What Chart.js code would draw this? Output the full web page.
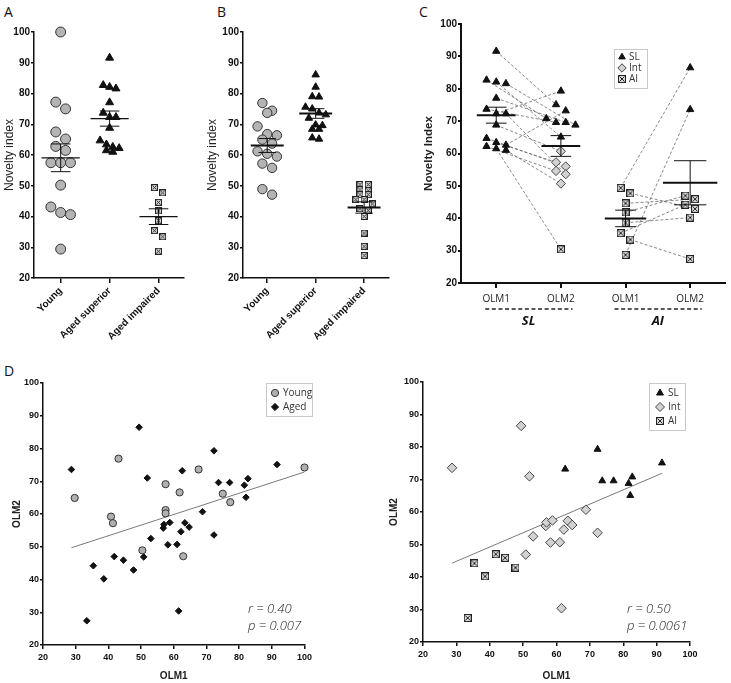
<!DOCTYPE html>
<html>
<head>
<meta charset="utf-8">
<script src="https://cdn.jsdelivr.net/npm/chart.js@4.4.1/dist/chart.umd.min.js"></script>
<style>
  body { margin: 0; background: #fff; width: 731px; height: 683px; position: relative; overflow: hidden; }
  .panel { position: absolute; }
  .letter { position: absolute; font: 14px 'Open Sans', sans-serif; line-height: 14px; color: #111; }
  .stat { position: absolute; font: italic 300 13px 'Open Sans', sans-serif; line-height: 17px; color: #222; white-space: nowrap; }
</style>
</head>
<body>
<div class="letter" style="left:4px;top:5px">A</div>
<div class="letter" style="left:217px;top:5px">B</div>
<div class="letter" style="left:419px;top:5px">C</div>
<div class="letter" style="left:4px;top:364px">D</div>

<div class="panel" style="left:0;top:20px;width:190px;height:328px"><canvas id="chartA"></canvas></div>
<div class="panel" style="left:203px;top:20px;width:191px;height:328px"><canvas id="chartB"></canvas></div>
<div class="panel" style="left:400px;top:10px;width:331px;height:330px"><canvas id="chartC"></canvas></div>
<div class="panel" style="left:0;top:370px;width:315px;height:313px"><canvas id="chartD1"></canvas></div>
<div class="panel" style="left:370px;top:370px;width:361px;height:313px"><canvas id="chartD2"></canvas></div>

<div class="stat" id="statD1" style="left:248px;top:600px"></div>
<div class="stat" id="statD2" style="left:627px;top:600px"></div>

<script>
// ---- data ----
const groupNames = ['Young', 'Aged superior', 'Aged impaired'];
const sessionNames = ['OLM1', 'OLM2', 'OLM1', 'OLM2'];
const cohortNames = ['SL', 'AI'];
const classNames = ['SL', 'Int', 'AI'];

// panel A (first test), young rats
const youngA = [100, 77.2, 75, 67.5, 65.2, 62.8, 61.5, 57.5, 57.5, 57.5, 50.2, 43.1, 41.3, 40.6, 29.4];

// panel B
const youngB = [76.9, 74.4, 73.7, 69.3, 66.8, 66.4, 65, 63.7, 61.2, 60.4, 59.5, 57.2, 55.8, 48.9, 47.1];
const superiorB = [86.1, 82.1, 79, 78.9, 75.6, 75, 73.7, 73.1, 72, 69.8, 69.6, 68.4, 68.4, 65.6, 65.2];
const impairedB = [50.4, 50.4, 48.7, 48.4, 47.1, 47.1, 45.5, 45.5, 44.1, 42.5, 42, 40, 34.6, 30.3, 27.3];

// paired OLM1 / OLM2 scores
const youngOlm1 = [100, 77.3, 75.0, 67.6, 62.9, 61.8, 57.5, 57.5, 57.5, 50.4, 43.1, 40.8, 41.4, 29.7];
const youngOlm2 = [74.2, 63.6, 66.2, 73.6, 47.1, 66.6, 69.1, 61.2, 60.2, 48.9, 76.9, 59.2, 57.2, 64.9];
const agedOlm1 = [91.6, 72.3, 62.6, 73.7, 77.1, 81.6, 82.7, 82.1, 28.7, 49.4, 51.9, 53.0, 50.8, 56.8, 57.0,
                  58.8, 58.2, 61.0, 62.2, 63.4, 64.7, 68.8, 72.3, 61.5, 33.4, 35.4, 38.6, 41.8, 44.6, 47.7];
const agedOlm2 = [75.1, 79.3, 73.2, 69.6, 69.6, 68.8, 70.8, 65.1, 73.6, 86.5, 71.0, 52.5, 46.9, 55.7, 56.8,
                  57.4, 50.6, 50.7, 54.6, 57.3, 56.0, 60.7, 53.6, 30.4, 27.4, 44.2, 40.2, 47.0, 45.9, 42.9];

const slCut = 61;   // superior learners at or above
const aiCut = 50;   // impaired below
const statsD1 = ['r = 0.40', 'p = 0.007'];
const statsD2 = ['r = 0.50', 'p = 0.0061'];

// ---- helpers ----
const black = '#111';

function classOf(v) {
  if (v >= slCut) return 'SL';
  if (v < aiCut) return 'AI';
  return 'Int';
}

function mean(a) { return a.reduce((s, v) => s + v, 0) / a.length; }

function boxX(size) {
  const c = document.createElement('canvas');
  c.width = size; c.height = size;
  const g = c.getContext('2d');
  g.fillStyle = '#dadada';
  g.fillRect(0, 0, size, size);
  g.strokeStyle = '#222';
  g.lineWidth = 1;
  g.strokeRect(0.5, 0.5, size - 1, size - 1);
  g.beginPath();
  g.moveTo(1.5, 1.5); g.lineTo(size - 1.5, size - 1.5);
  g.moveTo(size - 1.5, 1.5); g.lineTo(1.5, size - 1.5);
  g.stroke();
  return c;
}

function mark(style, r, fill, line) {
  return { pointStyle: style, pointRadius: r, pointBackgroundColor: fill, pointBorderColor: line, pointBorderWidth: 1 };
}

// rows of close values are spread sideways around the group centre
function swarm(values, center, step, tol) {
  const order = values.map((v, i) => i).sort((a, b) => values[b] - values[a]);
  const xs = new Array(values.length);
  let row = [];
  const flush = function () {
    row.forEach((i, j) => { xs[i] = center + (j - (row.length - 1) / 2) * step; });
    row = [];
  };
  order.forEach(i => {
    if (row.length && values[row[0]] - values[i] > tol) flush();
    row.push(i);
  });
  flush();
  return xs;
}

function dots(values, center, step, tol, style) {
  const xs = swarm(values, center, step, tol);
  return Object.assign({ data: values.map((v, i) => ({ x: xs[i], y: v })), clip: false, order: 1 }, style);
}

function fixSize(size) {
  return function (scale) {
    if (scale.isHorizontal()) scale.height = size; else scale.width = size;
  };
}

function valueAxis(o) {
  return {
    type: 'linear', min: 20, max: 100,
    afterFit: fixSize(o.size),
    ticks: { stepSize: 10, color: black, padding: o.pad, font: o.tickFont },
    grid: { drawOnChartArea: false, tickLength: o.tickLen, color: black, lineWidth: o.lw },
    border: { color: black, width: o.lw },
    title: { display: true, text: o.title, color: '#222', font: o.titleFont, padding: o.titlePad }
  };
}

function groupAxis(o) {
  return {
    type: 'linear', min: o.min, max: o.max,
    afterFit: fixSize(o.size),
    afterBuildTicks: function (s) { s.ticks = o.labels.map((l, i) => ({ value: i + 1 })); },
    ticks: {
      autoSkip: false, minRotation: o.rot, maxRotation: o.rot, color: o.color || black,
      padding: o.pad, font: o.tickFont,
      callback: function (v, i) { return o.labels[i]; }
    },
    grid: { drawOnChartArea: false, tickLength: o.tickLen, color: black, lineWidth: o.lw },
    border: { color: black, width: o.lw }
  };
}

function meanSem(items) {
  return {
    id: 'meanSem',
    afterDatasetsDraw(chart) {
      const { ctx, scales: { x, y } } = chart;
      ctx.save();
      ctx.strokeStyle = black;
      items.forEach(it => {
        const n = it.values.length;
        const m = mean(it.values);
        const sd = Math.sqrt(it.values.reduce((s, v) => s + (v - m) * (v - m), 0) / (n - 1));
        const se = sd / Math.sqrt(n);
        const cx = x.getPixelForValue(it.at);
        ctx.lineWidth = it.bold;
        ctx.beginPath();
        ctx.moveTo(x.getPixelForValue(it.at - it.half), y.getPixelForValue(m));
        ctx.lineTo(x.getPixelForValue(it.at + it.half), y.getPixelForValue(m));
        ctx.stroke();
        ctx.lineWidth = 1;
        ctx.beginPath();
        ctx.moveTo(cx, y.getPixelForValue(m - se));
        ctx.lineTo(cx, y.getPixelForValue(m + se));
        [m - se, m + se].forEach(v => {
          ctx.moveTo(x.getPixelForValue(it.at - it.cap), y.getPixelForValue(v));
          ctx.lineTo(x.getPixelForValue(it.at + it.cap), y.getPixelForValue(v));
        });
        ctx.stroke();
      });
      ctx.restore();
    }
  };
}

function legendBox(box, items) {
  return {
    id: 'legendBox',
    afterDraw(chart) {
      const { ctx, chartArea } = chart;
      const x0 = Math.round(chartArea.left + box.dx), y0 = Math.round(chartArea.top + box.dy);
      ctx.save();
      ctx.fillStyle = '#fff';
      ctx.fillRect(x0, y0, box.w, box.h);
      ctx.strokeStyle = '#c9c9c9';
      ctx.lineWidth = 1;
      ctx.strokeRect(x0 + 0.5, y0 + 0.5, box.w, box.h);
      items.forEach((it, i) => {
        const cy = y0 + box.first + i * box.row;
        ctx.fillStyle = it.style.pointBackgroundColor;
        ctx.strokeStyle = it.style.pointBorderColor;
        ctx.lineWidth = 1;
        Chart.helpers.drawPoint(ctx, { pointStyle: it.style.pointStyle, radius: it.r, rotation: 0, borderWidth: 1 }, x0 + box.mx, cy);
        ctx.fillStyle = '#333';
        ctx.font = '10px "Open Sans"';
        ctx.textAlign = 'left';
        ctx.textBaseline = 'middle';
        ctx.fillText(it.label, x0 + box.tx, cy);
      });
      ctx.restore();
    }
  };
}

const groupLabels = {
  id: 'groupLabels',
  afterDraw(chart) {
    const { ctx, chartArea, scales: { x } } = chart;
    ctx.save();
    cohortNames.forEach((name, g) => {
      const a = x.getPixelForValue(2 * g + 1 - 0.17);
      const b = x.getPixelForValue(2 * g + 2 + 0.18);
      const yy = chartArea.bottom + 26;
      ctx.strokeStyle = '#222';
      ctx.lineWidth = 1.4;
      ctx.setLineDash([4, 2.6]);
      ctx.beginPath();
      ctx.moveTo(a, yy);
      ctx.lineTo(b, yy);
      ctx.stroke();
      ctx.fillStyle = black;
      ctx.font = 'italic bold 13px "Open Sans"';
      ctx.textAlign = 'center';
      ctx.textBaseline = 'middle';
      ctx.fillText(name, x.getPixelForValue(2 * g + 1.5), chartArea.bottom + 38);
    });
    ctx.restore();
  }
};

function baseOptions(pad, scales) {
  return {
    responsive: true, maintainAspectRatio: false, animation: false,
    layout: { padding: pad },
    plugins: { legend: { display: false }, tooltip: { enabled: false } },
    scales: scales
  };
}

const tickBold10 = { family: 'Liberation Sans', size: 10, weight: 'bold' };
const tickBold9 = { family: 'Liberation Sans', size: 9, weight: 'bold' };

// ---- panel A ----
const superiorA = agedOlm1.filter(v => v >= slCut);
const impairedA = agedOlm1.filter(v => v < aiCut);

new Chart(document.getElementById('chartA'), {
  type: 'scatter',
  data: {
    datasets: [
      dots(youngA, 1, 0.2, 3.2, mark('circle', 5, '#b4b4b4', '#333')),
      dots(superiorA, 2, 0.13, 2.6, mark('triangle', 4.6, black, black)),
      dots(impairedA, 3, 0.17, 2.3, mark(boxX(7), 3.5, '#dadada', '#222'))
    ]
  },
  options: baseOptions({ top: 12, right: 4, left: 0, bottom: 0 }, {
    x: groupAxis({ min: 0.455, max: 3.52, size: 70, labels: groupNames, rot: 45, pad: 2, tickFont: tickBold10, tickLen: 5, lw: 1.5 }),
    y: valueAxis({ size: 34, pad: 1, tickLen: 3, lw: 1.5, tickFont: tickBold10, title: 'Novelty index',
                   titleFont: { family: 'Liberation Sans', size: 12 }, titlePad: { top: 2, bottom: 0 } })
  }),
  plugins: [meanSem([
    { values: youngA, at: 1, half: 0.39, cap: 0.2, bold: 1.2 },
    { values: superiorA, at: 2, half: 0.39, cap: 0.2, bold: 1.2 },
    { values: impairedA, at: 3, half: 0.39, cap: 0.2, bold: 1.2 }
  ])]
});

// ---- panel B ----
new Chart(document.getElementById('chartB'), {
  type: 'scatter',
  data: {
    datasets: [
      dots(youngB, 1, 0.2, 3.2, mark('circle', 4.7, '#b4b4b4', '#333')),
      dots(superiorB, 2, 0.14, 2.6, mark('triangle', 4.3, black, black)),
      dots(impairedB, 3, 0.17, 1.5, mark(boxX(7), 3.5, '#dadada', '#222'))
    ]
  },
  options: baseOptions({ top: 12, right: 2, left: 0, bottom: 0 }, {
    x: groupAxis({ min: 0.5, max: 3.5, size: 70, labels: groupNames, rot: 45, pad: 2, tickFont: tickBold10, tickLen: 5, lw: 1.5 }),
    y: valueAxis({ size: 40, pad: 1, tickLen: 3, lw: 1.5, tickFont: tickBold10, title: 'Novelty index',
                   titleFont: { family: 'Liberation Sans', size: 12 }, titlePad: { top: 2, bottom: 0 } })
  }),
  plugins: [meanSem([
    { values: youngB, at: 1, half: 0.34, cap: 0.18, bold: 2 },
    { values: superiorB, at: 2, half: 0.34, cap: 0.18, bold: 2 },
    { values: impairedB, at: 3, half: 0.34, cap: 0.18, bold: 2 }
  ])]
});

// ---- panel C ----
const styleC = {
  SL: mark('triangle', 4.2, black, black),
  Int: mark('rectRot', 4.6, '#d2d2d2', '#444'),
  AI: mark(boxX(8), 4, '#dadada', '#222')
};
const slIdx = agedOlm1.map((v, i) => i).filter(i => agedOlm1[i] >= slCut);
const aiIdx = agedOlm1.map((v, i) => i).filter(i => agedOlm1[i] < aiCut);
const columnsC = [
  slIdx.map(i => agedOlm1[i]), slIdx.map(i => agedOlm2[i]),
  aiIdx.map(i => agedOlm1[i]), aiIdx.map(i => agedOlm2[i])
];
const xsC = columnsC.map((col, c) => swarm(col, c + 1, 0.15, 2.2));

const pairLines = [];
[0, 2].forEach(c => {
  columnsC[c].forEach((v, k) => {
    pairLines.push({
      data: [{ x: xsC[c][k], y: v }, { x: xsC[c + 1][k], y: columnsC[c + 1][k] }],
      showLine: true, borderColor: '#6a6a6a', borderWidth: 0.8, borderDash: [3, 2],
      pointRadius: 0, order: 3, clip: false
    });
  });
});
const pointsC = classNames.map(name => Object.assign({ data: [], clip: false, order: 1 }, styleC[name]));
columnsC.forEach((col, c) => {
  col.forEach((v, k) => {
    pointsC[classNames.indexOf(classOf(v))].data.push({ x: xsC[c][k], y: v });
  });
});

new Chart(document.getElementById('chartC'), {
  type: 'scatter',
  data: { datasets: pairLines.concat(pointsC) },
  options: baseOptions({ top: 14, right: 1, left: 20, bottom: 0 }, {
    x: groupAxis({ min: 0.455, max: 4.545, size: 57, labels: sessionNames, rot: 0, pad: 5, color: '#222',
                   tickFont: { family: 'Open Sans', size: 10 }, tickLen: 5, lw: 2 }),
    y: valueAxis({ size: 41, pad: 1, tickLen: 3, lw: 2, tickFont: tickBold10, title: 'Novelty Index',
                   titleFont: { family: 'Liberation Sans', size: 11.5, weight: 'bold' }, titlePad: { top: 2, bottom: 0 } })
  }),
  plugins: [
    meanSem([
      { values: columnsC[0], at: 1, half: 0.3, cap: 0.16, bold: 2 },
      { values: columnsC[1], at: 2, half: 0.3, cap: 0.16, bold: 2 },
      { values: columnsC[2], at: 3, half: 0.32, cap: 0.16, bold: 2 },
      { values: columnsC[3], at: 4, half: 0.42, cap: 0.25, bold: 2 }
    ]),
    groupLabels,
    legendBox({ dx: 153, dy: 25, w: 33, h: 39, mx: 8, tx: 15, first: 8, row: 11 }, [
      { label: 'SL', style: styleC.SL, r: 3.8 },
      { label: 'Int', style: styleC.Int, r: 4.2 },
      { label: 'AI', style: styleC.AI, r: 3.5 }
    ])
  ]
});

// ---- panel D ----
function fitLine(xs, ys) {
  const mx = mean(xs), my = mean(ys);
  let sxy = 0, sxx = 0;
  xs.forEach((x, i) => { sxy += (x - mx) * (ys[i] - my); sxx += (x - mx) * (x - mx); });
  const b = sxy / sxx, a = my - b * mx;
  const lo = Math.min(...xs), hi = Math.max(...xs);
  return {
    data: [{ x: lo, y: a + b * lo }, { x: hi, y: a + b * hi }],
    showLine: true, borderColor: '#7a7a7a', borderWidth: 1, pointRadius: 0, order: 3
  };
}

function olmAxes(ySize, yPad, xSize) {
  return {
    x: valueAxis({ size: xSize, pad: 3, tickLen: 4, lw: 1.5, tickFont: tickBold9, title: 'OLM1',
                   titleFont: { family: 'Liberation Sans', size: 10, weight: 'bold' }, titlePad: { top: 0, bottom: 1 } }),
    y: valueAxis({ size: ySize, pad: 1, tickLen: 3, lw: 1.5, tickFont: tickBold9, title: 'OLM2',
                   titleFont: { family: 'Liberation Sans', size: 10, weight: 'bold' }, titlePad: { top: yPad, bottom: 0 } })
  };
}

const styleYoung = mark('circle', 3.6, '#b0b0b0', '#333');
const styleAged = mark('rectRot', 3.3, black, black);
const pairs = (xs, ys) => xs.map((v, i) => ({ x: v, y: ys[i] }));

new Chart(document.getElementById('chartD1'), {
  type: 'scatter',
  data: {
    datasets: [
      Object.assign({ data: pairs(youngOlm1, youngOlm2), clip: false, order: 1 }, styleYoung),
      Object.assign({ data: pairs(agedOlm1, agedOlm2), clip: false, order: 2 }, styleAged),
      fitLine(youngOlm1.concat(agedOlm1), youngOlm2.concat(agedOlm2))
    ]
  },
  options: baseOptions({ top: 13, right: 10, left: 0, bottom: 0 }, olmAxes(43, 11, 38)),
  plugins: [legendBox({ dx: 223, dy: 0, w: 46, h: 33, mx: 9, tx: 17, first: 10, row: 14 }, [
    { label: 'Young', style: styleYoung, r: 3.6 },
    { label: 'Aged', style: styleAged, r: 3.6 }
  ])]
});

const styleD2 = {
  SL: mark('triangle', 4, black, black),
  Int: mark('rectRot', 4.8, '#d2d2d2', '#444'),
  AI: mark(boxX(8), 4, '#dadada', '#222')
};
const pointsD2 = classNames.map(name => Object.assign({ data: [], clip: false, order: 1 }, styleD2[name]));
agedOlm1.forEach((v, i) => {
  const a = classOf(v), b = classOf(agedOlm2[i]);
  const name = (a === b && a !== 'Int') ? a : 'Int';
  pointsD2[classNames.indexOf(name)].data.push({ x: v, y: agedOlm2[i] });
});

new Chart(document.getElementById('chartD2'), {
  type: 'scatter',
  data: { datasets: pointsD2.concat([fitLine(agedOlm1, agedOlm2)]) },
  options: baseOptions({ top: 12, right: 41, left: 0, bottom: 0 }, olmAxes(53, 18, 41)),
  plugins: [legendBox({ dx: 226, dy: 1, w: 36, h: 47, mx: 11, tx: 19, first: 10, row: 14 }, [
    { label: 'SL', style: styleD2.SL, r: 4 },
    { label: 'Int', style: styleD2.Int, r: 4.5 },
    { label: 'AI', style: styleD2.AI, r: 4 }
  ])]
});

document.getElementById('statD1').innerHTML = statsD1.join('<br>');
document.getElementById('statD2').innerHTML = statsD2.join('<br>');
</script>
</body>
</html>
